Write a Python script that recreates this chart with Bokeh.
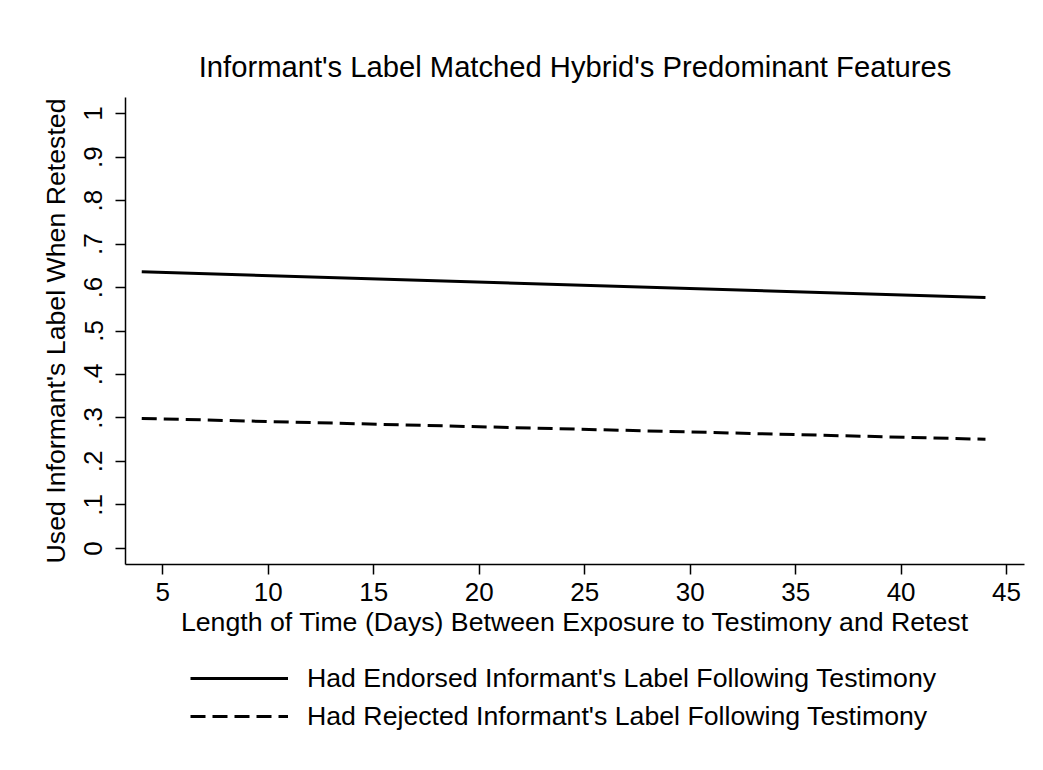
from bokeh.plotting import figure
from bokeh.models import Range1d, FixedTicker, Legend, LegendItem
from bokeh.layouts import column
from bokeh.embed import file_html
from bokeh.resources import INLINE

# Data
days = [4, 44]
endorsed = [0.636, 0.577]
rejected = [0.299, 0.251]

x_ticks = [5, 10, 15, 20, 25, 30, 35, 40, 45]
y_ticks = [0, 0.1, 0.2, 0.3, 0.4, 0.5, 0.6, 0.7, 0.8, 0.9, 1.0]
y_tick_labels = ["0", ".1", ".2", ".3", ".4", ".5", ".6", ".7", ".8", ".9", "1"]

title_text = "Informant's Label Matched Hybrid's Predominant Features"
x_label = "Length of Time (Days) Between Exposure to Testimony and Retest"
y_label = "Used Informant's Label When Retested"
legend_labels = ["Had Endorsed Informant's Label Following Testimony",
                 "Had Rejected Informant's Label Following Testimony"]

FONT = "Liberation Sans"
W = 1027
H_MAIN = 656
H_LEG = 98

p = figure(width=W, height=H_MAIN, output_backend="svg", toolbar_location=None,
           x_range=Range1d(3.23, 45.85), y_range=Range1d(-0.037, 1.037),
           min_border_left=125, min_border_right=3, min_border_top=97,
           min_border_bottom=H_MAIN - 564)
p.outline_line_color = None
p.xgrid.visible = False
p.ygrid.visible = False
p.background_fill_color = "white"
p.border_fill_color = "white"

p.title.text = title_text
p.title.align = "center"
p.title.text_font = FONT
p.title.text_font_size = "29.2px"
p.title.text_font_style = "normal"
p.title.text_color = "black"
p.title.standoff = 29

for ax in (p.xaxis[0], p.yaxis[0]):
    ax.axis_line_color = "black"
    ax.axis_line_width = 1.5
    ax.major_tick_line_color = "black"
    ax.major_tick_line_width = 1.5
    ax.major_tick_in = 0
    ax.major_tick_out = 10
    ax.minor_tick_line_color = None
    ax.major_label_text_font = FONT
    ax.major_label_text_font_size = "26px"
    ax.major_label_text_color = "black"
    ax.axis_label_text_font = FONT
    ax.axis_label_text_font_size = "26.7px"
    ax.axis_label_text_font_style = "normal"
    ax.axis_label_text_color = "black"

p.xaxis[0].ticker = FixedTicker(ticks=x_ticks)
p.xaxis[0].axis_label = x_label
p.xaxis[0].major_label_standoff = 8
p.xaxis[0].axis_label_standoff = 3

p.yaxis[0].ticker = FixedTicker(ticks=y_ticks)
p.yaxis[0].major_label_overrides = {t: l for t, l in zip(y_ticks, y_tick_labels)}
p.yaxis[0].major_label_orientation = "vertical"
p.yaxis[0].axis_label = y_label
p.yaxis[0].major_label_standoff = 13
p.yaxis[0].axis_label_standoff = 11

r1 = p.line(days, endorsed, line_color="black", line_width=3)
r2 = p.line(days, rejected, line_color="black", line_width=3, line_dash="15 7")

# Legend panel below the chart (its own series copies sit outside its view;
# only their legend samples are shown)
q = figure(width=W, height=H_LEG, output_backend="svg", toolbar_location=None,
           x_axis_type=None, y_axis_type=None, min_border=0,
           x_range=Range1d(1000, 1001), y_range=Range1d(1000, 1001))
q.outline_line_color = None
q.xgrid.visible = False
q.ygrid.visible = False
q.background_fill_color = "white"
q.border_fill_color = "white"
k1 = q.line(days, endorsed, line_color="black", line_width=3)
k2 = q.line(days, rejected, line_color="black", line_width=3, line_dash="15 7")

legend = Legend(items=[LegendItem(label=legend_labels[0], renderers=[k1]),
                       LegendItem(label=legend_labels[1], renderers=[k2])],
                location=(65, 19), orientation="vertical",
                padding=0, margin=0, spacing=0,
                glyph_width=98, glyph_height=38, label_height=38,
                label_standoff=19,
                label_text_font=FONT, label_text_font_size="26.7px",
                label_text_color="black",
                border_line_color=None, background_fill_alpha=0)
q.add_layout(legend, "center")

layout = column(p, q, spacing=0)
open("out.html", "w").write(file_html(layout, INLINE))
